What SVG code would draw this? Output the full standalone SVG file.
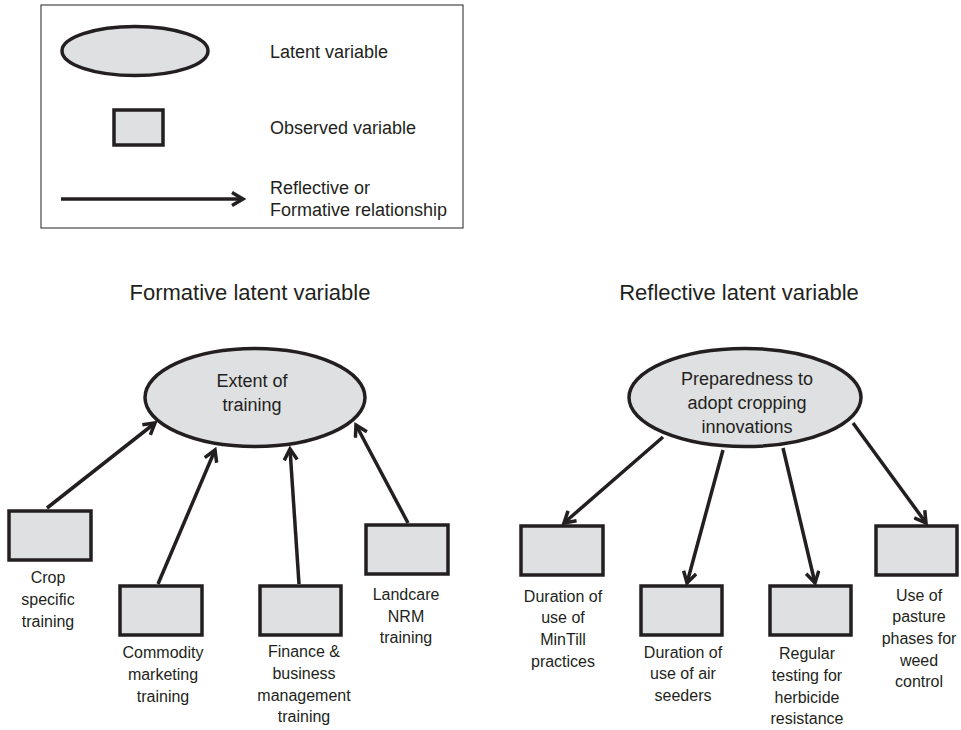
<svg xmlns="http://www.w3.org/2000/svg" width="961" height="730" viewBox="0 0 961 730">
<style>
.shape{fill:#dfe0e2;stroke:#231f20;stroke-width:3.5}
.edge{fill:none;stroke:#231f20;stroke-width:3.5}
text{font-family:"Liberation Sans",Arial,sans-serif;fill:#231f20}
.lg{font-size:18px}
.tt{font-size:22px;text-anchor:middle}
.el{font-size:18px;text-anchor:middle}
.bx{font-size:16px;text-anchor:middle}
</style>
<defs>
<marker id="ah" viewBox="0 0 16 16" refX="13" refY="8" markerWidth="16" markerHeight="16" markerUnits="userSpaceOnUse" orient="auto">
<path d="M2,1.5 L13,8 L2,14.5" fill="none" stroke="#231f20" stroke-width="3.5" stroke-linejoin="miter"/>
</marker>
</defs>
<rect width="961" height="730" fill="#ffffff"/>

<g id="legend">
<rect x="41" y="5" width="422" height="223" fill="none" stroke="#231f20" stroke-width="1"/>
<ellipse class="shape" cx="135" cy="51" rx="73" ry="24.5"/>
<rect class="shape" x="114" y="110" width="49" height="35"/>
<line class="edge" x1="61" y1="199" x2="243" y2="199" stroke-width="4" marker-end="url(#ah)"/>
<text class="lg" x="270" y="58">Latent variable</text>
<text class="lg" x="270" y="134">Observed variable</text>
<text class="lg" x="270" y="194">Reflective or</text>
<text class="lg" x="270" y="216">Formative relationship</text>
</g>

<text class="tt" x="250" y="300">Formative latent variable</text>
<text class="tt" x="739" y="300">Reflective latent variable</text>

<g id="connectors">
<line class="edge" x1="47" y1="508" x2="155" y2="423" marker-end="url(#ah)"/>
<line class="edge" x1="158" y1="584" x2="215" y2="450" marker-end="url(#ah)"/>
<line class="edge" x1="299" y1="584" x2="290" y2="449" marker-end="url(#ah)"/>
<line class="edge" x1="408" y1="523" x2="356" y2="425" marker-end="url(#ah)"/>
<line class="edge" x1="663" y1="437" x2="564" y2="523" marker-end="url(#ah)"/>
<line class="edge" x1="723" y1="450" x2="687" y2="583" marker-end="url(#ah)"/>
<line class="edge" x1="783" y1="448" x2="815" y2="583" marker-end="url(#ah)"/>
<line class="edge" x1="853" y1="423" x2="926" y2="523" marker-end="url(#ah)"/>
</g>

<g id="extent">
<ellipse class="shape" cx="255" cy="397.5" rx="110" ry="49"/>
<text class="el" x="252" y="387">Extent of</text>
<text class="el" x="252" y="411">training</text>
</g>
<g id="crop">
<rect class="shape" x="9" y="511" width="82" height="49"/>
<text class="bx" x="48" y="583">Crop</text>
<text class="bx" x="48" y="605">specific</text>
<text class="bx" x="48" y="627">training</text>
</g>
<g id="commodity">
<rect class="shape" x="120" y="586" width="82" height="49"/>
<text class="bx" x="163" y="658">Commodity</text>
<text class="bx" x="163" y="680">marketing</text>
<text class="bx" x="163" y="702">training</text>
</g>
<g id="finance">
<rect class="shape" x="260" y="586" width="81" height="49"/>
<text class="bx" x="304" y="657">Finance &amp;</text>
<text class="bx" x="304" y="679">business</text>
<text class="bx" x="304" y="701">management</text>
<text class="bx" x="304" y="722">training</text>
</g>
<g id="landcare">
<rect class="shape" x="366" y="525" width="82" height="49"/>
<text class="bx" x="406" y="600">Landcare</text>
<text class="bx" x="406" y="622">NRM</text>
<text class="bx" x="406" y="643">training</text>
</g>

<g id="preparedness">
<ellipse class="shape" cx="745" cy="397.5" rx="116" ry="49"/>
<text class="el" x="747" y="385">Preparedness to</text>
<text class="el" x="747" y="409">adopt cropping</text>
<text class="el" x="747" y="433">innovations</text>
</g>
<g id="mintill">
<rect class="shape" x="521" y="526" width="82" height="49"/>
<text class="bx" x="563" y="602">Duration of</text>
<text class="bx" x="563" y="623">use of</text>
<text class="bx" x="563" y="645">MinTill</text>
<text class="bx" x="563" y="667">practices</text>
</g>
<g id="airseeders">
<rect class="shape" x="641" y="586" width="81" height="49"/>
<text class="bx" x="683" y="658">Duration of</text>
<text class="bx" x="683" y="679">use of air</text>
<text class="bx" x="683" y="701">seeders</text>
</g>
<g id="herbicide">
<rect class="shape" x="770" y="586" width="81" height="49"/>
<text class="bx" x="807" y="659">Regular</text>
<text class="bx" x="807" y="681">testing for</text>
<text class="bx" x="807" y="703">herbicide</text>
<text class="bx" x="807" y="724">resistance</text>
</g>
<g id="pasture">
<rect class="shape" x="876" y="526" width="81" height="49"/>
<text class="bx" x="919" y="601">Use of</text>
<text class="bx" x="919" y="622">pasture</text>
<text class="bx" x="919" y="644">phases for</text>
<text class="bx" x="919" y="666">weed</text>
<text class="bx" x="919" y="687">control</text>
</g>
</svg>
